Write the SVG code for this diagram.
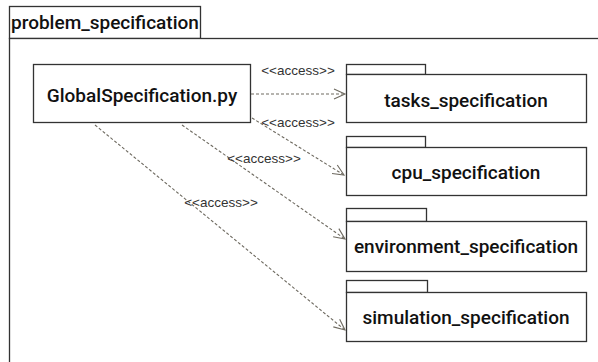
<svg xmlns="http://www.w3.org/2000/svg" width="598" height="362" viewBox="0 0 598 362">
<style>
.box{fill:#fff;stroke:#333;stroke-width:1.3}
.nt{font-family:Roboto,"Liberation Sans",sans-serif;font-size:19px;font-weight:500;fill:#111;text-anchor:middle}
.lbl{font-family:"Liberation Sans",Arial,sans-serif;font-size:13.5px;fill:#333;text-anchor:middle}
.edge{fill:none;stroke:#6e6a60;stroke-width:1.1;stroke-dasharray:3,2}
.head{fill:none;stroke:#6e6a60;stroke-width:1.1}
</style>
<defs>
<marker id="arr" markerWidth="14" markerHeight="12" refX="12" refY="6" orient="auto" markerUnits="userSpaceOnUse">
<path class="head" d="M1,1 L12,6 L1,11"/>
</marker>
</defs>
<rect width="598" height="362" fill="#fff"/>
<g id="problem_specification">
<rect class="box" x="9.5" y="6.5" width="191" height="32"/>
<rect class="box" x="9.5" y="38.5" width="600" height="340"/>
<text x="11" y="29" font-family="Roboto,'Liberation Sans',sans-serif" font-size="19" font-weight="500" fill="#111">problem_specification</text>
</g>
<g id="GlobalSpecification">
<rect class="box" x="33.5" y="64.5" width="217" height="58"/>
<text class="nt" x="142" y="102">GlobalSpecification.py</text>
</g>
<g id="tasks_specification">
<rect class="box" x="346.5" y="64.5" width="79" height="10"/>
<rect class="box" x="346.5" y="74.5" width="240" height="48"/>
<text class="nt" x="466" y="107">tasks_specification</text>
</g>
<g id="cpu_specification">
<rect class="box" x="346.5" y="136.5" width="79" height="11"/>
<rect class="box" x="346.5" y="147.5" width="240" height="48"/>
<text class="nt" x="466" y="179">cpu_specification</text>
</g>
<g id="environment_specification">
<rect class="box" x="346.5" y="208.5" width="80" height="13"/>
<rect class="box" x="346.5" y="221.5" width="240" height="50"/>
<text class="nt" x="466" y="253">environment_specification</text>
</g>
<g id="simulation_specification">
<rect class="box" x="346.5" y="280.5" width="81" height="12"/>
<rect class="box" x="346.5" y="292.5" width="240" height="49"/>
<text class="nt" x="466" y="324">simulation_specification</text>
</g>
<g id="connectors">
<line class="edge" x1="251" y1="94" x2="345" y2="94" marker-end="url(#arr)"/>
<line class="edge" x1="252" y1="118" x2="344" y2="175" marker-end="url(#arr)"/>
<line class="edge" x1="182" y1="125" x2="345" y2="239" marker-end="url(#arr)"/>
<line class="edge" x1="95" y1="125" x2="345" y2="330" marker-end="url(#arr)"/>
<text class="lbl" x="298" y="75">&lt;&lt;access&gt;&gt;</text>
<text class="lbl" x="298" y="127">&lt;&lt;access&gt;&gt;</text>
<text class="lbl" x="264" y="163">&lt;&lt;access&gt;&gt;</text>
<text class="lbl" x="221" y="207">&lt;&lt;access&gt;&gt;</text>
</g>
</svg>
